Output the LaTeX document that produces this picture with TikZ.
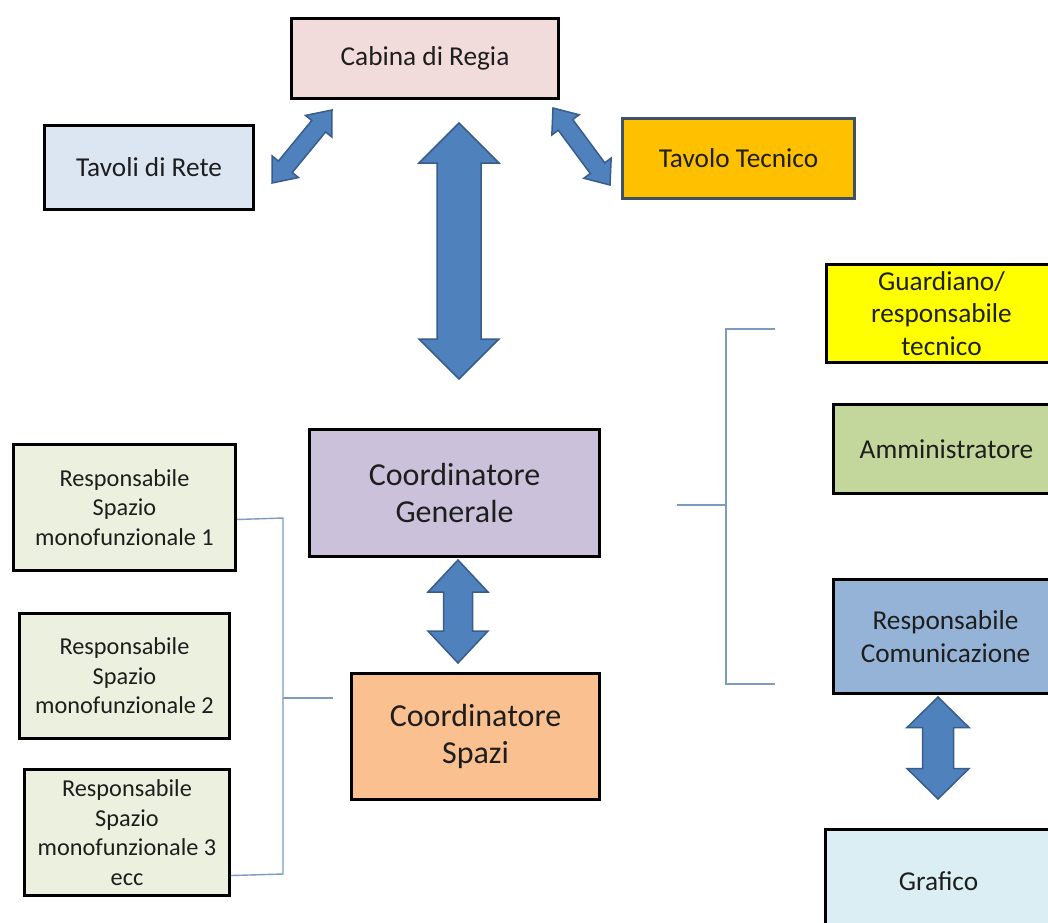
\documentclass[tikz,border=0pt]{standalone}
\usepackage{fontspec}
\setmainfont{Carlito}
\usetikzlibrary{calc}
\definecolor{txt}{HTML}{1E1E1E}
\definecolor{cabfill}{HTML}{F2DCDB}
\definecolor{tavfill}{HTML}{DCE6F2}
\definecolor{tecfill}{HTML}{FFC000}
\definecolor{tecline}{HTML}{3E5264}
\definecolor{guafill}{HTML}{FFFF00}
\definecolor{amfill}{HTML}{C3D69B}
\definecolor{comfill}{HTML}{95B3D7}
\definecolor{grafill}{HTML}{DBEEF4}
\definecolor{cgfill}{HTML}{CCC1DA}
\definecolor{csfill}{HTML}{FAC090}
\definecolor{respfill}{HTML}{EBF1DE}
\definecolor{arrfill}{HTML}{4F81BD}
\definecolor{arrline}{HTML}{385D8A}
\definecolor{brk}{HTML}{7E9BBF}
\newcommand{\blockarr}[6]{%
  \coordinate (#1-pa) at ($(#2)!#4!(#3)$);
  \coordinate (#1-pb) at ($(#3)!#4!(#2)$);
  \filldraw[blockarrow] (#2)
    -- ($(#1-pa)!#5!90:(#3)$) -- ($(#1-pa)!#6!90:(#3)$)
    -- ($(#1-pb)!#6!-90:(#2)$) -- ($(#1-pb)!#5!-90:(#2)$)
    -- (#3)
    -- ($(#1-pb)!#5!90:(#2)$) -- ($(#1-pb)!#6!90:(#2)$)
    -- ($(#1-pa)!#6!-90:(#3)$) -- ($(#1-pa)!#5!-90:(#3)$)
    -- cycle;
}
\begin{document}
\begin{tikzpicture}[x=1pt,y=-1pt,
  box/.style={draw=black, line width=3pt, anchor=north west, align=center,
    inner sep=0pt, text=txt, font=\fontsize{27.3}{32.5}\selectfont},
  smallbox/.style={box, font=\fontsize{24.3}{29.5}\selectfont},
  bigbox/.style={box, font=\fontsize{32}{37.5}\selectfont},
  blockarrow/.style={fill=arrfill, draw=arrline, line width=1.5pt, line join=miter},
  bracket/.style={draw=brk, line width=1.4pt}]
\clip (0,0) rectangle (1048,922);
\fill[white] (0,0) rectangle (1048,922);

% boxes
\node[box, fill=cabfill, minimum width=267, minimum height=80] (cabina) at (290,17) {Cabina di Regia};
\node[box, fill=tavfill, minimum width=209, minimum height=84] (tavoli) at (43,124) {Tavoli di Rete};
\node[box, fill=tecfill, draw=tecline, minimum width=232, minimum height=80] (tecnico) at (621,117) {Tavolo Tecnico};
\node[box, fill=guafill, minimum width=230, minimum height=98] (guard) at (825,263) {Guardiano/\\responsabile\\tecnico};
\node[box, fill=amfill, minimum width=226, minimum height=89] (ammin) at (832,403) {Amministratore};
\node[box, fill=comfill, minimum width=224, minimum height=114] (comun) at (832,578) {Responsabile\\Comunicazione};
\node[box, fill=grafill, minimum width=226, minimum height=104] (grafico) at (824,828) {Grafico};
\node[bigbox, fill=cgfill, minimum width=290, minimum height=127] (cg) at (308,428) {Coordinatore\\Generale};
\node[bigbox, fill=csfill, minimum width=248, minimum height=126] (cs) at (350,672) {Coordinatore\\Spazi};
\node[smallbox, fill=respfill, minimum width=222, minimum height=126] (r1) at (12,443) {Responsabile\\Spazio\\monofunzionale 1};
\node[smallbox, fill=respfill, minimum width=210, minimum height=125] (r2) at (18,612) {Responsabile\\Spazio\\monofunzionale 2};
\node[smallbox, fill=respfill, minimum width=205, minimum height=126] (r3) at (23,768) {Responsabile\\Spazio\\monofunzionale 3\\ecc};

% left bracket
\coordinate (lb1) at ($(r1.east)+(0,12)$);
\coordinate (lb3) at ($(r3.east)+(0,43)$);
\coordinate (lbv1) at (283,518);
\coordinate (lbv3) at (283,874);
\coordinate (lbm) at (283,698);
\coordinate (lbe) at (333,698);
\draw[bracket] (lb1) -- (lbv1) -- (lbv3) -- (lb3);
\draw[bracket] (lbm) -- (lbe);

% right bracket
\coordinate (rbt) at (775,329);
\coordinate (rbtv) at (726,329);
\coordinate (rbbv) at (726,684);
\coordinate (rbb) at (775,684);
\coordinate (rbm) at (726,505);
\coordinate (rbe) at (677,505);
\draw[bracket] (rbt) -- (rbtv) -- (rbbv) -- (rbb);
\draw[bracket] (rbm) -- (rbe);

% block arrows
\coordinate (a1a) at (459,123); \coordinate (a1b) at (459,379);
\blockarr{a1}{a1a}{a1b}{40pt}{40pt}{22pt}
\coordinate (a2a) at (458,560); \coordinate (a2b) at (458,663);
\blockarr{a2}{a2a}{a2b}{32pt}{30pt}{14.5pt}
\coordinate (a3a) at (938,697); \coordinate (a3b) at (938,799);
\blockarr{a3}{a3a}{a3b}{30.5pt}{31pt}{15.5pt}
\coordinate (a4a) at (272,183); \coordinate (a4b) at (332,110);
\blockarr{a4}{a4a}{a4b}{21pt}{17pt}{9pt}
\coordinate (a5a) at (553,108); \coordinate (a5b) at (610,185);
\blockarr{a5}{a5a}{a5b}{21pt}{17pt}{9pt}
\end{tikzpicture}
\end{document}
